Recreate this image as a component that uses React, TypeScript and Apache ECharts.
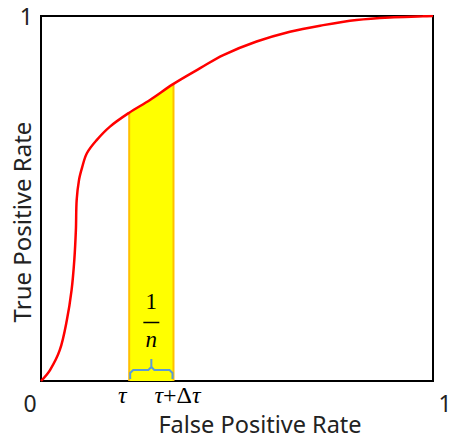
import React, { useEffect, useRef } from "react";
import * as echarts from "echarts";

// ROC curve points [FPR, TPR]
const rocCurve: number[][] = [
  [0, 0], [0.023, 0.03], [0.048, 0.085], [0.066, 0.167], [0.078, 0.249],
  [0.085, 0.332], [0.089, 0.414], [0.091, 0.496], [0.097, 0.551],
  [0.1046, 0.584], [0.117, 0.624], [0.142, 0.66], [0.176, 0.697],
  [0.225, 0.735], [0.278, 0.77], [0.338, 0.814], [0.406, 0.857],
  [0.465, 0.893], [0.55, 0.93], [0.635, 0.957], [0.72, 0.975],
  [0.805, 0.989], [0.89, 0.996], [0.974, 0.999], [1, 1],
];
// Highlighted slice between tau and tau + delta tau (top follows the curve)
const bandTop: number[][] = [
  [0.225, 0.735], [0.25, 0.752], [0.278, 0.77], [0.31, 0.793], [0.338, 0.814],
];
const bandLeft = 0.225;
const bandRight = 0.338;
const xTicks = ["0", "1"];
const yTicks = ["", "1"];

const FONT = "'Noto Sans', sans-serif";
const SERIF = "'Liberation Serif', 'DejaVu Serif', serif";

export default function App() {
  const ref = useRef<HTMLDivElement>(null);
  useEffect(() => {
    if (!ref.current) return;
    const chart = echarts.init(ref.current, undefined, { renderer: "svg" });
    const option: any = {
      animation: false,
      grid: {
        left: 41, right: 18, top: 16, bottom: 57,
        containLabel: false, outerBoundsMode: "none",
        show: true, borderColor: "#000", borderWidth: 2, backgroundColor: "transparent",
      },
      xAxis: {
        type: "value", min: 0, max: 1, interval: 1,
        name: "False Positive Rate", nameLocation: "middle", nameGap: 33,
        nameMoveOverlap: false,
        nameTextStyle: {
          fontFamily: FONT, fontSize: 23.5, color: "#222", verticalAlign: "top",
          lineHeight: 20, padding: [0, 0, 0, 46],
        },
        axisLine: { show: true, lineStyle: { color: "#000", width: 2 } },
        axisTick: { show: false },
        splitLine: { show: false },
        axisLabel: {
          margin: 10,
          formatter: (v: number) => (v === 0 ? "{a|" + xTicks[0] + "}" : "{b|" + xTicks[1] + "}"),
          rich: {
            a: { fontFamily: FONT, fontSize: 23, color: "#222", padding: [0, 22, 0, 0] },
            b: { fontFamily: FONT, fontSize: 23, color: "#222", padding: [0, 0, 0, 24] },
          },
        },
      },
      yAxis: {
        type: "value", min: 0, max: 1, interval: 1,
        name: "True Positive Rate", nameLocation: "middle", nameGap: 8,
        nameMoveOverlap: false,
        nameTextStyle: { fontFamily: FONT, fontSize: 24, color: "#222", padding: [0, 47, 0, 0] },
        axisLine: { show: true, lineStyle: { color: "#000", width: 2 } },
        axisTick: { show: false },
        splitLine: { show: false },
        axisLabel: {
          margin: 8,
          fontFamily: FONT, fontSize: 23, color: "#222",
          formatter: (v: number) => (v === 0 ? yTicks[0] : yTicks[1]),
        },
      },
      series: [
        {
          type: "line", data: bandTop, symbol: "none", z: 1,
          lineStyle: { width: 0 },
          areaStyle: { color: "#ffff00", opacity: 1, origin: "start" },
        },
        {
          type: "line", data: [[bandLeft, 0], bandTop[0]], symbol: "none", z: 2,
          lineStyle: { color: "#ffc000", width: 2 },
        },
        {
          type: "line", data: [[bandRight, 0], bandTop[bandTop.length - 1]], symbol: "none", z: 2,
          lineStyle: { color: "#ffc000", width: 2 },
        },
        {
          type: "line", data: rocCurve, symbol: "none", z: 3,
          smooth: 0.35,
          lineStyle: { color: "#ff0000", width: 2.5 },
        },
      ],
    };
    chart.setOption(option);

    const L = chart.convertToPixel({ gridIndex: 0 }, [bandLeft, 0]);
    const R = chart.convertToPixel({ gridIndex: 0 }, [bandRight, 0]);
    const l = L[0] + 1, r = R[0] - 1, b = L[1] - 2;
    const m = (l + r) / 2;
    const yb = b - 9;
    const braceColor = "#5b9bd5";
    const braceStyle = { stroke: braceColor, lineWidth: 2, fill: null };
    chart.setOption({
      graphic: [
        {
          type: "polyline", z: 10,
          shape: { points: [[l, b], [l, yb + 3], [l + 3, yb], [m - 3, yb], [m, yb - 3], [m, yb - 11]] },
          style: braceStyle,
        },
        {
          type: "polyline", z: 10,
          shape: { points: [[m, yb - 3], [m + 3, yb], [r - 3, yb], [r, yb + 3], [r, b]] },
          style: braceStyle,
        },
        {
          type: "text", z: 10, x: m, y: 301,
          style: { text: "1", font: `23px ${SERIF}`, fill: "#000", align: "center", verticalAlign: "middle" },
        },
        {
          type: "line", z: 10,
          shape: { x1: m - 8, y1: 322.5, x2: m + 8, y2: 322.5 },
          style: { stroke: "#000", lineWidth: 1.5 },
        },
        {
          type: "text", z: 10, x: m, y: 339,
          style: { text: "n", font: `italic 23px ${SERIF}`, fill: "#000", align: "center", verticalAlign: "middle" },
        },
        {
          type: "text", z: 10, x: L[0] - 7, y: 395,
          style: { text: "τ", font: `italic 24px ${SERIF}`, fill: "#000", align: "center", verticalAlign: "middle" },
        },
        {
          type: "text", z: 10, x: R[0] + 4, y: 395,
          style: {
            text: "{i|τ}{u|+Δ}{i|τ}", align: "center", verticalAlign: "middle",
            rich: {
              i: { font: `italic 24px ${SERIF}`, fill: "#000" },
              u: { font: `24px ${SERIF}`, fill: "#000" },
            },
          },
        },
      ],
    });
    return () => chart.dispose();
  }, []);
  return (
    <div
      ref={ref}
      style={{ position: "fixed", left: 0, top: 0, width: 451, height: 438, background: "#fff" }}
    />
  );
}
